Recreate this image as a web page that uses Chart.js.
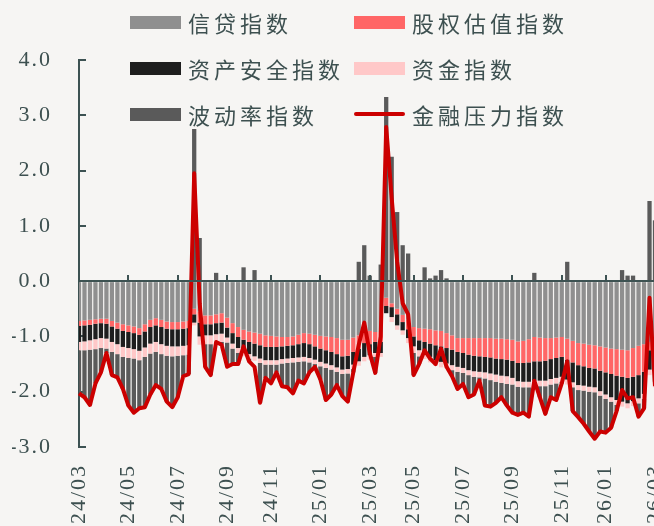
<!DOCTYPE html>
<html>
<head>
<meta charset="utf-8">
<script src="https://cdn.jsdelivr.net/npm/chart.js@4.4.1/dist/chart.umd.min.js"></script>
<style>
  html, body { margin: 0; padding: 0; background: #f6f5f3; overflow: hidden; }
  #wrap { position: relative; width: 680px; height: 532px; }
  #legend {
    position: absolute; left: 130px; top: -1px;
    display: grid; grid-template-columns: 224px 224px; grid-auto-rows: 46px;
    font-family: "Noto Sans CJK SC", sans-serif; font-size: 22px; letter-spacing: 4px;
    color: #3d5050;
  }
  #legend .item { display: flex; align-items: center; white-space: nowrap; }
  #legend .swatch { width: 51px; height: 13px; margin-right: 7px; flex: none; }
  #legend .swatch.line { height: 4px; border-radius: 2px; }
</style>
</head>
<body>
<div id="wrap">
  <canvas id="chart" width="680" height="532"></canvas>
  <div id="legend"></div>
</div>
<script>
// weekly readings, first week 2024-03-01
const firstWeek = '2024-03-01';
const monthTicks = ['24/03','24/05','24/07','24/09','24/11','25/01','25/03','25/05','25/07','25/09','25/11','26/01','26/03'];

const credit = [
  -0.72,-0.71,-0.70,-0.69,-0.68,-0.68,-0.72,-0.75,-0.78,-0.80,
  -0.82,-0.85,-0.78,-0.70,-0.67,-0.70,-0.73,-0.74,-0.74,-0.73,
  -0.72,-0.50,-0.55,-0.62,-0.62,-0.60,-0.58,-0.66,-0.76,-0.83,
  -0.88,-0.91,-0.93,-0.95,-0.98,-0.99,-1.00,-1.01,-1.01,-1.00,
  -0.97,-0.94,-0.95,-0.97,-0.99,-1.00,-1.01,-1.03,-1.06,-1.06,
  -1.02,-0.98,-0.85,-0.90,-0.92,-0.92,-0.30,-0.40,-0.50,-0.61,
  -0.70,-0.83,-0.85,-0.86,-0.87,-0.89,-0.90,-0.94,-0.98,-1.03,
  -1.03,-1.03,-1.03,-1.03,-1.03,-1.03,-1.04,-1.04,-1.05,-1.06,
  -1.09,-1.08,-1.05,-1.01,-1.02,-1.03,-1.03,-1.02,-1.01,-1.04,
  -1.08,-1.12,-1.13,-1.15,-1.16,-1.18,-1.20,-1.22,-1.23,-1.24,
  -1.25,-1.21,-1.17,-1.14,-1.10,-1.12
];
const equity = [
  -0.09,-0.09,-0.09,-0.08,-0.08,-0.09,-0.10,-0.11,-0.12,-0.12,
  -0.12,-0.12,-0.13,-0.13,-0.13,-0.13,-0.13,-0.13,-0.13,-0.13,
  -0.13,-0.10,-0.20,-0.16,-0.16,-0.16,-0.17,-0.18,-0.18,-0.18,
  -0.18,-0.19,-0.20,-0.21,-0.21,-0.20,-0.19,-0.17,-0.16,-0.16,
  -0.17,-0.18,-0.19,-0.21,-0.23,-0.25,-0.27,-0.29,-0.30,-0.29,
  -0.26,-0.24,-0.27,-0.24,-0.18,-0.18,-0.15,-0.07,-0.10,-0.13,
  -0.17,-0.17,-0.22,-0.24,-0.26,-0.27,-0.28,-0.27,-0.26,-0.25,
  -0.27,-0.30,-0.32,-0.33,-0.34,-0.35,-0.36,-0.37,-0.37,-0.38,
  -0.39,-0.40,-0.42,-0.44,-0.43,-0.41,-0.38,-0.37,-0.36,-0.38,
  -0.39,-0.40,-0.41,-0.42,-0.42,-0.44,-0.45,-0.46,-0.48,-0.49,
  -0.50,-0.52,-0.53,-0.50,-0.15,-0.30
];
const assetSafety = [
  -0.29,-0.29,-0.28,-0.28,-0.27,-0.27,-0.28,-0.28,-0.29,-0.29,
  -0.29,-0.29,-0.29,-0.30,-0.30,-0.31,-0.31,-0.31,-0.31,-0.31,
  -0.31,-0.15,-0.25,-0.20,-0.20,-0.20,-0.20,-0.18,-0.19,-0.20,
  -0.21,-0.22,-0.23,-0.24,-0.24,-0.24,-0.24,-0.23,-0.23,-0.23,
  -0.24,-0.25,-0.25,-0.24,-0.24,-0.24,-0.24,-0.24,-0.24,-0.24,
  -0.23,-0.23,-0.25,-0.20,-0.20,-0.20,-0.13,-0.18,-0.20,-0.15,
  -0.16,-0.18,-0.18,-0.21,-0.24,-0.27,-0.28,-0.28,-0.28,-0.27,
  -0.27,-0.28,-0.28,-0.28,-0.28,-0.29,-0.29,-0.30,-0.30,-0.31,
  -0.33,-0.34,-0.35,-0.35,-0.35,-0.36,-0.36,-0.36,-0.36,-0.36,
  -0.36,-0.36,-0.35,-0.34,-0.34,-0.37,-0.40,-0.42,-0.44,-0.45,
  -0.46,-0.44,-0.42,-0.40,-0.35,-0.40
];
const funding = [
  -0.15,-0.16,-0.17,-0.18,-0.18,-0.18,-0.18,-0.18,-0.18,-0.18,
  -0.17,-0.17,-0.17,-0.18,-0.18,-0.18,-0.18,-0.18,-0.17,-0.17,
  -0.17,-0.05,-0.15,-0.16,-0.16,-0.16,-0.15,-0.09,-0.09,-0.09,
  -0.09,-0.08,-0.08,-0.08,-0.08,-0.08,-0.08,-0.08,-0.08,-0.08,
  -0.08,-0.08,-0.08,-0.08,-0.08,-0.08,-0.08,-0.08,-0.08,-0.08,
  -0.08,-0.08,-0.08,-0.08,-0.07,-0.07,0.00,-0.09,-0.08,-0.08,
  -0.09,-0.12,-0.11,-0.10,-0.10,-0.10,-0.10,-0.09,-0.09,-0.09,
  -0.09,-0.09,-0.10,-0.10,-0.11,-0.12,-0.13,-0.13,-0.14,-0.12,
  -0.10,-0.10,-0.10,-0.10,-0.10,-0.10,-0.10,-0.10,-0.09,-0.09,
  -0.09,-0.09,-0.09,-0.09,-0.09,-0.08,-0.08,-0.08,-0.09,-0.09,
  -0.09,-0.09,-0.09,-0.09,-0.10,-0.10
];
const volatility = [
  -0.78,-0.85,-1.00,-0.62,-0.44,-0.08,-0.42,-0.42,-0.58,-0.86,
  -0.98,-0.87,-0.91,-0.74,-0.60,-0.63,-0.83,-0.92,-0.75,-0.38,
  -0.35,2.75,0.78,-0.41,-0.56,0.15,-0.05,-0.44,-0.28,-0.20,
  0.25,-0.05,0.20,-0.72,-0.24,-0.34,-0.14,-0.41,-0.44,-0.56,
  -0.34,-0.40,-0.18,-0.05,-0.24,-0.58,-0.45,-0.24,-0.40,-0.51,
  -0.06,0.35,0.65,0.10,-0.29,0.30,3.33,2.25,1.25,0.65,
  0.50,-0.40,-0.14,0.25,0.05,0.10,0.20,0.05,-0.11,-0.31,
  -0.20,-0.40,-0.32,-0.06,-0.49,-0.48,-0.38,-0.26,-0.39,-0.51,
  -0.51,-0.46,-0.53,0.15,-0.20,-0.50,-0.23,-0.30,-0.03,0.35,
  -0.43,-0.49,-0.60,-0.72,-0.84,-0.65,-0.61,-0.47,-0.11,0.20,
  0.10,0.10,-0.24,-0.17,1.45,1.10
];
const stressIndex = [
  -2.03,-2.10,-2.24,-1.85,-1.65,-1.30,-1.70,-1.74,-1.95,-2.25,
  -2.38,-2.30,-2.28,-2.05,-1.88,-1.95,-2.18,-2.28,-2.10,-1.72,
  -1.68,1.95,-0.40,-1.55,-1.70,-1.10,-1.15,-1.55,-1.50,-1.50,
  -1.18,-1.45,-1.55,-2.20,-1.75,-1.85,-1.65,-1.90,-1.92,-2.03,
  -1.80,-1.85,-1.65,-1.55,-1.78,-2.15,-2.05,-1.88,-2.08,-2.18,
  -1.65,-1.15,-0.75,-1.30,-1.66,-1.00,2.79,1.50,0.35,-0.40,
  -0.60,-1.70,-1.50,-1.25,-1.40,-1.50,-1.22,-1.55,-1.72,-1.95,
  -1.86,-2.10,-2.05,-1.80,-2.25,-2.27,-2.20,-2.10,-2.25,-2.38,
  -2.42,-2.38,-2.45,-1.80,-2.10,-2.40,-2.10,-2.15,-1.85,-1.45,
  -2.35,-2.46,-2.58,-2.72,-2.85,-2.72,-2.74,-2.65,-2.35,-1.97,
  -2.12,-2.10,-2.45,-2.30,-0.30,-1.90
];

const barNames = ['信贷指数', '股权估值指数', '资产安全指数', '资金指数', '波动率指数'];
const lineName = '金融压力指数';
const barColors = ['#8f8f8f', '#ff6666', '#1e1e1e', '#ffc8c8', '#5a5a5a'];
const lineColor = '#cc0000';
const axisColor = '#3d5252';
const textColor = '#3d5050';

// week labels
const weeks = [];
const t0 = Date.parse(firstWeek + 'T00:00:00Z');
for (let i = 0; i < credit.length; i++) {
  weeks.push(new Date(t0 + i * 7 * 86400000).toISOString().slice(0, 10));
}
// first week of each labelled month
const tickAt = {};
monthTicks.forEach(m => {
  const key = '20' + m.slice(0, 2) + '-' + m.slice(3);
  const i = weeks.findIndex(w => w.startsWith(key));
  if (i >= 0) tickAt[i] = m;
});

const barSeries = [credit, equity, assetSafety, funding, volatility];
const datasets = barSeries.map((d, i) => ({
  type: 'bar',
  label: barNames[i],
  data: d,
  backgroundColor: barColors[i],
  borderWidth: 0,
  barPercentage: 0.78,
  categoryPercentage: 1,
  clip: 0,
  order: 1
}));
datasets.push({
  type: 'line',
  label: lineName,
  data: stressIndex,
  borderColor: lineColor,
  borderWidth: 4,
  pointRadius: 0,
  tension: 0,
  borderJoinStyle: 'round',
  stack: 'line',
  order: 0
});

// legend
const legend = document.getElementById('legend');
datasets.forEach(ds => {
  const item = document.createElement('div');
  item.className = 'item';
  const sw = document.createElement('span');
  sw.className = ds.type === 'line' ? 'swatch line' : 'swatch';
  sw.style.background = ds.type === 'line' ? ds.borderColor : ds.backgroundColor;
  item.appendChild(sw);
  item.appendChild(document.createTextNode(ds.label));
  legend.appendChild(item);
});

const spacing = {
  id: 'spacing',
  beforeUpdate(chart) { chart.ctx.letterSpacing = '2px'; },
  beforeDraw(chart) { chart.ctx.letterSpacing = '2px'; }
};

const tickFont = { family: "'Liberation Serif', serif", size: 22 };

new Chart(document.getElementById('chart'), {
  type: 'bar',
  data: { labels: weeks, datasets },
  plugins: [spacing],
  options: {
    responsive: false,
    animation: false,
    devicePixelRatio: 1,
    layout: { padding: { left: 12, top: 60, right: 25, bottom: 9 } },
    plugins: { legend: { display: false }, tooltip: { enabled: false } },
    scales: {
      x: {
        type: 'category',
        stacked: true,
        offset: false,
        grid: { display: false, offset: false },
        border: { display: false },
        ticks: {
          autoSkip: false, minRotation: 90, maxRotation: 90, padding: 9,
          font: tickFont, color: textColor,
          callback: (v, i) => tickAt[i] ?? null
        },
        afterFit: s => { s.height = 76; s.paddingLeft = 0; s.paddingRight = 0; }
      },
      x2: {
        type: 'category',
        position: { y: 0 },
        offset: false,
        grid: { drawOnChartArea: false, offset: false, tickLength: -7, color: axisColor, lineWidth: 2, z: 1 },
        border: { color: axisColor, width: 2, z: 1 },
        ticks: {
          autoSkip: false, maxRotation: 0, font: { size: 10 },
          callback: (v, i) => (tickAt[i] !== undefined ? '' : null)
        },
        afterFit: s => { s.paddingLeft = 0; s.paddingRight = 0; }
      },
      y: {
        stacked: true,
        min: -3,
        max: 4,
        grid: { drawOnChartArea: false, tickLength: -7, color: axisColor, lineWidth: 2 },
        border: { color: axisColor, width: 2 },
        ticks: {
          stepSize: 1, padding: 34, font: tickFont, color: textColor,
          callback: v => v.toFixed(1)
        },
        afterFit: s => { s.width = 67; }
      }
    }
  }
});
</script>
</body>
</html>
